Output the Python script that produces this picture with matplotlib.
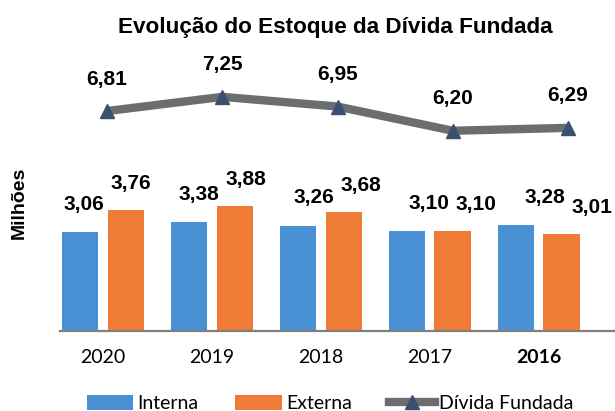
"""Evolução do Estoque da Dívida Fundada - bar + line chart."""

import matplotlib

matplotlib.use("Agg")
import matplotlib.pyplot as plt
from matplotlib.lines import Line2D
from matplotlib.patches import Patch
import numpy as np

# data
anos = ["2020", "2019", "2018", "2017", "2016"]
interna = [3.06, 3.38, 3.26, 3.10, 3.28]
externa = [3.76, 3.88, 3.68, 3.10, 3.01]
divida_fundada = [6.81, 7.25, 6.95, 6.20, 6.29]

BLUE = "#4a90d4"
ORANGE = "#ef7b36"
GREY_LINE = "#6b6d70"
MARKER = "#3a5070"

NARROW = ["Lato", "DejaVu Sans"]

fig = plt.figure(figsize=(6.15, 4.11), dpi=100)
ax = fig.add_axes([0.0976, 0.1946, 0.9024, 0.668])

x = np.arange(len(anos))
bw = 0.335
ax.bar(x - 0.21, interna, bw, color=BLUE, zorder=2)
ax.bar(x + 0.21, externa, bw, color=ORANGE, zorder=2)

ax.set_xlim(-0.395, 4.70)
ax.set_ylim(0, 8.5)
ax.set_yticks([])
ax.set_xticks(x)
ax.set_xticklabels(anos, fontsize=14, family=NARROW)
ax.get_xticklabels()[-1].set_fontweight("bold")
ax.tick_params(axis="x", length=0, pad=13)
for side in ("top", "right", "left"):
    ax.spines[side].set_visible(False)
ax.spines["bottom"].set_color("#7f7f7f")
ax.spines["bottom"].set_linewidth(1.6)

# line on its own category scale
ax2 = ax.twiny()
ax2.set_xlim(-0.408, 4.408)
ax2.set_xticks([])
for side in ("top", "right", "left", "bottom"):
    ax2.spines[side].set_visible(False)
ax2.plot(x, divida_fundada, color=GREY_LINE, linewidth=6, solid_capstyle="butt",
         marker="^", markersize=10, markerfacecolor=MARKER, markeredgecolor=MARKER, zorder=3)

lab = dict(ha="center", va="center", fontsize=15, fontweight="bold",
           family="Liberation Sans", textcoords="offset points")
for i in range(len(anos)):
    ax2.annotate(f"{divida_fundada[i]:.2f}".replace(".", ","), (x[i], divida_fundada[i]),
                 xytext=(0, 23), **lab)
    ax2.annotate(f"{interna[i]:.2f}".replace(".", ","), (x[i] - 0.204, interna[i]),
                 xytext=(0, 20), **lab)
    ax2.annotate(f"{externa[i]:.2f}".replace(".", ","), (x[i] + 0.204, externa[i]),
                 xytext=(0, 19), **lab)

fig.text(0.546, 0.934, "Evolução do Estoque da Dívida Fundada", ha="center", va="center",
         fontsize=16.2, fontweight="bold", family="Liberation Sans")
fig.text(0.031, 0.506, "Milhões", rotation=90, ha="center", va="center",
         fontsize=14, fontweight="bold", family="Liberation Sans")

handles = [
    Patch(facecolor=BLUE),
    Patch(facecolor=ORANGE),
    Line2D([], [], color=GREY_LINE, linewidth=6, marker="^", markersize=10,
           markerfacecolor=MARKER, markeredgecolor=MARKER),
]
fig.legend(handles, ["Interna", "Externa", "Dívida Fundada"], loc="lower center",
           bbox_to_anchor=(0.537, -0.045), ncol=3, frameon=False,
           prop={"family": NARROW, "size": 14}, handlelength=2.4, handleheight=0.8,
           handletextpad=0.2, columnspacing=1.9)

fig.savefig("out.png", dpi=100)
plt.close(fig)
